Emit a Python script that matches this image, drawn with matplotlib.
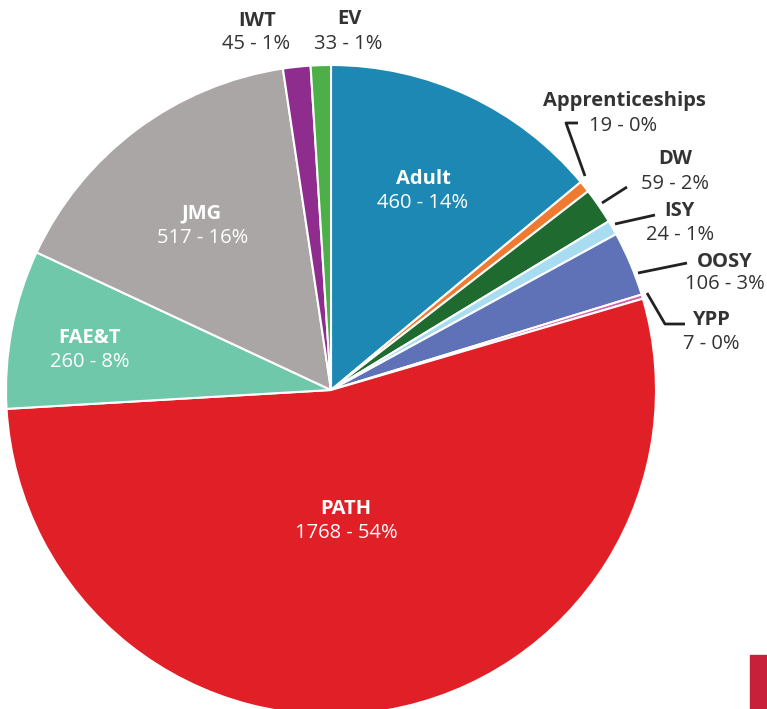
import matplotlib
matplotlib.use("Agg")
import matplotlib.pyplot as plt
from matplotlib.patches import Rectangle

plt.rcParams['font.family'] = ['Open Sans', 'DejaVu Sans']

programs = ["Adult", "Apprenticeships", "DW", "ISY", "OOSY", "YPP",
            "PATH", "FAE&T", "JMG", "IWT", "EV"]
counts = [460, 19, 59, 24, 106, 7, 1768, 260, 517, 45, 33]
percents = [14, 0, 2, 1, 3, 0, 54, 8, 16, 1, 1]
colors = ["#1e88b4", "#f07a30", "#1f6a2e", "#a8dcf0", "#5f72b8", "#d860a4",
          "#e01f26", "#70c8ab", "#aaa6a6", "#8e2d8e", "#4caf47"]

W, H = 767, 709


def py(y):
    # pixel row -> data y
    return H - y


fig = plt.figure(figsize=(W / 100, H / 100), dpi=100)
ax = fig.add_axes([0, 0, 1, 1])

ax.pie(counts, colors=colors, startangle=90, counterclock=False,
       center=(331, py(390)), radius=325, frame=True,
       wedgeprops=dict(edgecolor='white', linewidth=1.5))
ax.set_aspect('equal')
ax.axis('off')
ax.set_xlim(0, W)
ax.set_ylim(0, H)

# label placement in pixel coords: (name_x, name_y, value_x, value_y, inside)
label_pos = {
    "Adult": (423, 179, 423, 203, True),
    "JMG": (202, 213, 203, 238, True),
    "FAE&T": (90, 338, 90, 362, True),
    "PATH": (346, 509, 346, 533, True),
    "IWT": (257, 21, 256, 44, False),
    "EV": (349, 19, 348, 44, False),
    "Apprenticeships": (624, 101, 623, 126, False),
    "DW": (675, 159, 675, 184, False),
    "ISY": (679, 211, 680, 235, False),
    "OOSY": (725, 262, 725, 284, False),
    "YPP": (711, 320, 711, 344, False),
}

leaders = {
    "Apprenticeships": [(585, 176), (566, 123), (578, 123)],
    "DW": [(602, 203), (627, 187)],
    "ISY": [(615, 224), (655, 215)],
    "OOSY": [(638, 273), (687, 263)],
    "YPP": [(647, 293), (665, 324), (685, 324)],
}

for name, n, p in zip(programs, counts, percents):
    nx, ny, vx, vy, inside = label_pos[name]
    c = 'white' if inside else '#333333'
    ax.text(nx, py(ny), name, ha='center', va='center', fontsize=14.5,
            fontweight='bold', color=c)
    ax.text(vx, py(vy), f"{n} - {p}%", ha='center', va='center',
            fontsize=14.5, color=c)

for name, pts in leaders.items():
    ax.plot([p[0] for p in pts], [py(p[1]) for p in pts], color='#222222',
            lw=2, solid_capstyle='butt')

ax.add_patch(Rectangle((750, 0), 17, 54, color='#c8203a'))

fig.savefig("out.png", dpi=100)
